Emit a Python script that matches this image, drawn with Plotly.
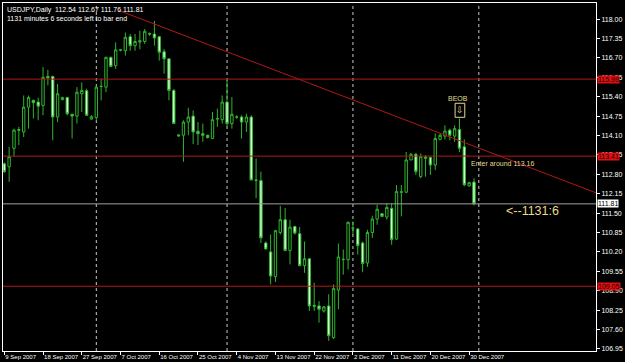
import plotly.graph_objects as go

# ---- data (USDJPY daily, bar index 0 = 9 Sep 2007) ----
opens = [113.15,113.05,113.67,114.27,114.22,115.05,115.28,115.22,115.11,116.08,
         116.08,114.72,115.30,115.37,114.81,114.75,115.50,115.60,114.65,114.70,
         115.74,115.72,116.72,116.44,116.96,116.94,117.41,117.11,117.23,117.25,
         117.52,117.50,117.41,116.91,116.67,115.61,114.12,114.11,114.55,114.75,
         114.24,114.16,114.11,114.00,114.65,114.63,115.22,114.50,114.72,114.72,
         114.55,114.72,112.59,112.59,110.50,110.20,109.37,110.85,111.28,110.25,
         111.05,110.81,109.74,109.97,108.41,108.39,108.22,108.39,107.33,108.92,
         109.94,109.94,110.99,110.97,110.50,109.83,110.85,111.30,111.48,111.37,
         111.66,110.63,112.20,112.20,113.28,113.47,112.72,113.33,113.36,113.11,
         113.97,114.08,114.28,114.08,114.30,113.72,112.41,112.54]
highs = [113.20,113.72,114.33,114.39,115.44,115.44,115.30,115.37,116.39,116.30,
         116.10,115.83,115.40,115.40,114.83,115.72,115.88,115.67,114.78,115.75,
         116.00,116.74,116.74,117.22,117.00,117.55,117.50,117.50,117.61,117.67,
         117.55,117.94,117.44,117.00,116.67,115.66,114.15,114.61,115.03,114.94,
         114.55,114.50,114.12,114.89,115.00,115.44,115.99,115.39,114.78,114.78,
         114.83,114.78,113.33,112.89,110.55,110.78,110.94,111.74,111.67,111.28,
         111.08,111.03,110.55,109.97,109.17,108.55,108.39,108.78,109.11,110.48,
         110.28,111.22,111.22,111.00,110.55,110.94,111.41,111.78,111.50,111.83,
         111.83,112.44,112.44,113.55,113.52,113.52,113.50,113.44,113.39,114.17,
         114.17,114.44,114.33,114.44,114.67,113.97,112.55,112.67]
lows = [112.85,112.55,113.39,113.78,114.05,114.33,114.67,114.61,114.78,115.78,
        113.94,114.55,115.28,114.78,114.00,114.50,114.89,114.77,114.63,114.61,
        115.28,115.55,116.39,116.33,116.92,116.78,116.94,116.94,116.99,117.17,
        117.44,117.11,116.61,116.17,115.28,114.50,114.05,113.22,114.11,113.81,
        113.78,113.89,114.00,114.00,114.39,114.50,114.39,114.33,114.66,114.00,
        114.22,112.61,112.00,110.50,110.28,109.11,109.19,110.78,110.22,109.78,
        110.78,109.72,109.50,108.22,108.22,107.83,108.17,107.22,107.28,108.28,
        109.44,109.61,110.78,110.11,109.52,109.70,110.67,111.11,111.39,111.28,
        110.44,110.61,111.39,112.17,113.28,112.78,112.67,112.72,112.78,112.94,
        113.94,113.97,113.94,113.89,113.55,112.40,112.39,111.76]
closes = [112.89,113.39,114.28,114.30,115.05,115.37,115.20,115.08,116.05,116.03,
          114.72,115.50,115.37,114.83,114.75,115.55,115.61,114.78,114.73,115.72,
          115.75,116.72,116.41,116.97,116.97,117.39,117.11,117.25,117.28,117.59,
          117.50,117.37,116.89,116.67,115.61,114.50,114.09,114.55,114.72,114.22,
          114.16,114.11,114.03,114.63,114.67,115.22,114.50,114.81,114.72,114.55,
          114.72,112.61,112.61,110.67,110.30,109.39,110.91,111.28,110.25,111.03,
          110.83,109.74,109.97,108.39,108.38,108.28,108.36,107.39,108.97,110.03,
          109.95,111.19,111.00,110.41,109.81,110.85,111.30,111.63,111.39,111.69,
          110.61,112.22,112.21,113.28,113.47,112.89,113.39,113.39,113.11,114.00,
          114.11,114.25,114.11,114.33,113.67,112.45,112.52,111.81]

date_labels = ["9 Sep 2007", "18 Sep 2007", "27 Sep 2007", "7 Oct 2007", "16 Oct 2007",
               "25 Oct 2007", "4 Nov 2007", "13 Nov 2007", "22 Nov 2007", "2 Dec 2007",
               "11 Dec 2007", "20 Dec 2007", "30 Dec 2007"]
date_ticks = [0, 8, 16, 24, 32, 40, 48, 56, 64, 72, 80, 88, 96]
month_separators = [19, 46, 72, 98]

price_ticks = [118.00, 117.35, 116.70, 116.05, 115.40, 114.75, 114.10, 113.45, 112.80,
               112.15, 111.50, 110.85, 110.20, 109.55, 108.90, 108.25, 107.60, 106.95]
levels = [115.99, 113.41, 109.05]
bid = 111.81
trend_x = [23.5, 122.2]
trend_y = [118.30, 112.18]

x = list(range(len(opens)))

GREEN = "#2fb52f"
FONT = "Liberation Sans"

fig = go.Figure()
fig.add_trace(go.Candlestick(
    x=x, open=opens, high=highs, low=lows, close=closes,
    increasing=dict(line=dict(color=GREEN, width=1), fillcolor="#000000"),
    decreasing=dict(line=dict(color=GREEN, width=1), fillcolor="#d6ffd6"),
    whiskerwidth=0, showlegend=False, hoverinfo="skip"))

XR = [-0.27, 122.2]
YR = [106.88, 118.54]

shapes = []
for s in month_separators:
    shapes.append(dict(type="line", xref="x", yref="paper", x0=s, x1=s, y0=0, y1=1,
                       line=dict(color="#c8c8c8", width=1, dash="dot"), layer="below"))
for lv in levels:
    shapes.append(dict(type="line", xref="paper", yref="y", x0=0, x1=1, y0=lv, y1=lv,
                       line=dict(color="#b01818", width=1)))
shapes.append(dict(type="line", xref="paper", yref="y", x0=0, x1=1, y0=bid, y1=bid,
                   line=dict(color="#a0a0a0", width=1)))
shapes.append(dict(type="line", xref="x", yref="y", x0=trend_x[0], x1=trend_x[1],
                   y0=trend_y[0], y1=trend_y[1], line=dict(color="#b01818", width=1)))
# BEOB box marker
shapes.append(dict(type="rect", xref="x", yref="y", x0=93.1, x1=95.1, y0=114.71, y1=115.18,
                   line=dict(color="#e0d890", width=1)))

ann = []
ann.append(dict(xref="paper", yref="paper", x=0, y=1, xanchor="left", yanchor="top",
                xshift=2, yshift=-1, showarrow=False, align="left",
                text="USDJPY,Daily  112.54 112.67 111.76 111.81<br>1131 minutes 6 seconds left to bar end",
                font=dict(color="white", size=7, family=FONT)))
for lv in levels:
    ann.append(dict(xref="paper", yref="y", x=1, y=lv, xanchor="left", yanchor="middle",
                    xshift=1, showarrow=False, text=f"{lv:.2f}", bgcolor="#e01010",
                    borderpad=0, font=dict(color="#200000", size=7, family=FONT)))
ann.append(dict(xref="paper", yref="y", x=1, y=bid, xanchor="left", yanchor="middle",
                xshift=1, showarrow=False, text=f"{bid:.2f}", bgcolor="#ffffff",
                borderpad=0, font=dict(color="#000000", size=7, family=FONT)))
ann.append(dict(xref="x", yref="y", x=94.1, y=114.95, showarrow=False, text="⇩",
                font=dict(color="#e0d890", size=9, family="DejaVu Sans")))
ann.append(dict(xref="x", yref="y", x=93.6, y=115.33, showarrow=False, text="BEOB",
                font=dict(color="#e0d890", size=7, family=FONT)))
ann.append(dict(xref="x", yref="y", x=96.0, y=113.16, xanchor="left", showarrow=False,
                text="Enter around 113.16", font=dict(color="#e0d890", size=7, family=FONT)))
ann.append(dict(xref="x", yref="y", x=103.3, y=111.58, xanchor="left", showarrow=False,
                text="<--1131:6", font=dict(color="#e8dc8c", size=12.5, family=FONT)))

fig.update_layout(
    width=625, height=362, margin=dict(l=2, r=26, t=2, b=10),
    paper_bgcolor="#000000", plot_bgcolor="#000000",
    shapes=shapes, annotations=ann,
    xaxis=dict(range=XR, rangeslider=dict(visible=False), showgrid=False, zeroline=False,
               tickvals=date_ticks, ticktext=date_labels, ticks="outside", ticklen=3,
               tickcolor="#ffffff", ticklabelposition="outside right", tickangle=0,
               tickfont=dict(color="white", size=6, family=FONT),
               showline=True, linecolor="#ffffff", mirror=True),
    yaxis=dict(range=YR, side="right", showgrid=False, zeroline=False,
               tickvals=price_ticks, ticktext=[f"{p:.2f}" for p in price_ticks],
               ticks="outside", ticklen=3, tickcolor="#ffffff",
               tickfont=dict(color="white", size=7, family=FONT),
               showline=True, linecolor="#ffffff", mirror=True),
)

fig.write_html("out.html")
